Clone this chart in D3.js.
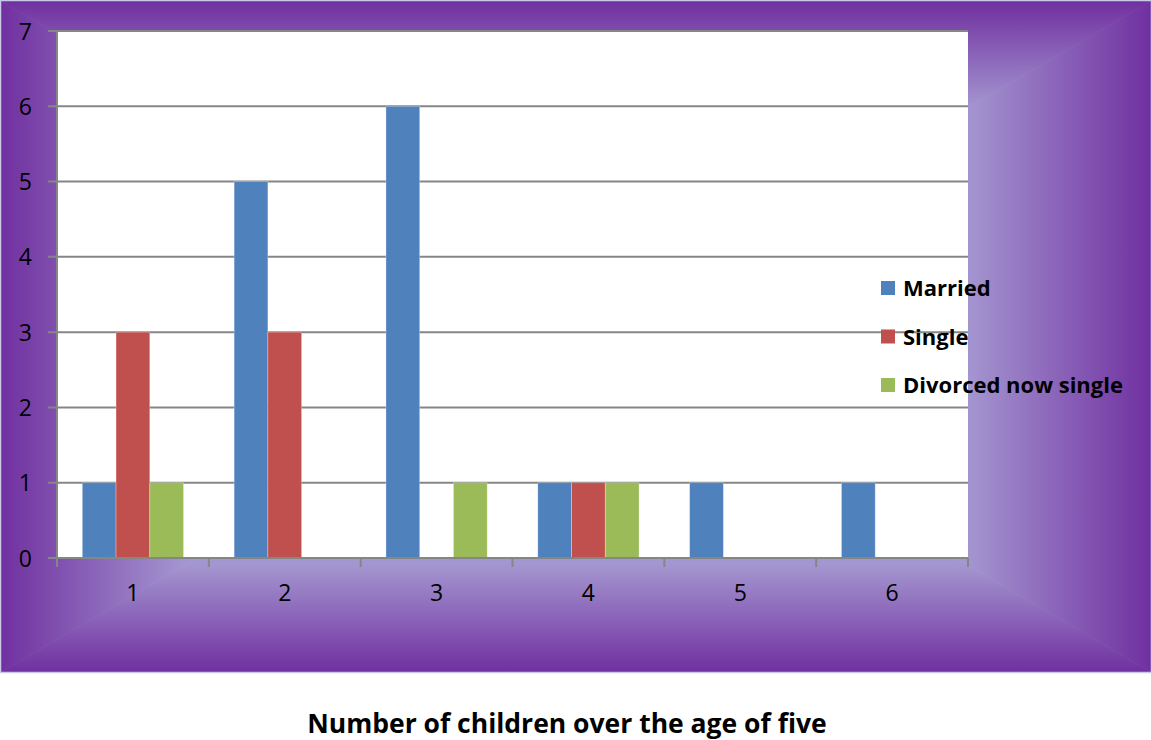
<!DOCTYPE html>
<html>
<head>
<meta charset="utf-8">
<script src="https://cdn.jsdelivr.net/npm/d3@7"></script>
<style>
  body { margin: 0; background: #fff; }
  svg { display: block; }
</style>
</head>
<body>
<div id="chart"></div>
<script>
// categories and series
const categories = ['1', '2', '3', '4', '5', '6'];
const series_names = ['Married', 'Single', 'Divorced now single'];
const married = [1, 5, 6, 1, 1, 1];
const single = [3, 3, 0, 1, 0, 0];
const divorced = [1, 0, 1, 1, 0, 0];
const series_colors = ['#4f81bd', '#c0504d', '#9bbb59'];
const y_ticks = [0, 1, 2, 3, 4, 5, 6, 7];
const chart_title = 'Number of children over the age of five';

const W = 1151, H = 740;
const box = {x0: 1, y0: 1, x1: 1151, y1: 672};
const plot = {left: 57, top: 31, right: 968, bottom: 558};
const axis_color = '#868686';
const font = '"Open Sans", "Noto Sans", sans-serif';

const svg = d3.select('#chart').append('svg')
  .attr('width', W)
  .attr('height', H);

// purple "from center" gradient background: four trapezoids, each fading to the middle
const defs = svg.append('defs');
const cx = (box.x0 + box.x1) / 2, cy = (box.y0 + box.y1) / 2;
const sides = [
  {id: 'gTop', pts: [[box.x0, box.y0], [box.x1, box.y0], [cx, cy]], from: [cx, box.y0], to: [cx, cy]},
  {id: 'gBot', pts: [[box.x0, box.y1], [box.x1, box.y1], [cx, cy]], from: [cx, box.y1], to: [cx, cy]},
  {id: 'gLeft', pts: [[box.x0, box.y0], [box.x0, box.y1], [cx, cy]], from: [box.x0, cy], to: [cx, cy]},
  {id: 'gRight', pts: [[box.x1, box.y0], [box.x1, box.y1], [cx, cy]], from: [box.x1, cy], to: [cx, cy]}
];
sides.forEach(s => {
  const g = defs.append('linearGradient')
    .attr('id', s.id)
    .attr('gradientUnits', 'userSpaceOnUse')
    .attr('x1', s.from[0]).attr('y1', s.from[1])
    .attr('x2', s.to[0]).attr('y2', s.to[1]);
  g.append('stop').attr('offset', 0).attr('stop-color', '#7030a0');
  g.append('stop').attr('offset', 0.32).attr('stop-color', '#a496d0');
  g.append('stop').attr('offset', 1).attr('stop-color', '#aaa0d8');
});
svg.append('g')
  .selectAll('path')
  .data(sides)
  .join('path')
  .attr('d', d => d3.line()(d.pts) + 'Z')
  .attr('fill', d => `url(#${d.id})`)
  .attr('stroke', d => `url(#${d.id})`)
  .attr('stroke-width', 0.8);
svg.append('rect')
  .attr('x', box.x0 - 0.5).attr('y', box.y0 - 0.5)
  .attr('width', box.x1 - box.x0 + 1).attr('height', box.y1 - box.y0 + 1)
  .attr('fill', 'none')
  .attr('stroke', '#c9c9ea')
  .attr('stroke-width', 1.5);

// plot area
svg.append('rect')
  .attr('x', plot.left).attr('y', plot.top)
  .attr('width', plot.right - plot.left).attr('height', plot.bottom - plot.top)
  .attr('fill', '#ffffff');

const y = d3.scaleLinear().domain([0, 7]).range([plot.bottom, plot.top]);
const x0 = d3.scaleBand().domain(categories).range([plot.left, plot.right]).padding(0);
const x1 = d3.scaleBand().domain(series_names).range([0, x0.bandwidth()]).paddingInner(0).paddingOuter(0.75);

// gridlines
svg.append('g')
  .selectAll('line')
  .data(y_ticks)
  .join('line')
  .attr('x1', plot.left - 9).attr('x2', plot.right)
  .attr('y1', d => y(d)).attr('y2', d => y(d))
  .attr('stroke', axis_color)
  .attr('stroke-width', 2);

// bars
const all_values = [married, single, divorced];
const rows = categories.map((c, i) => ({cat: c, vals: series_names.map((s, j) => ({s, v: all_values[j][i], color: series_colors[j]}))}));
svg.append('g')
  .selectAll('g')
  .data(rows)
  .join('g')
  .attr('transform', d => `translate(${x0(d.cat)},0)`)
  .selectAll('rect')
  .data(d => d.vals.filter(v => v.v > 0))
  .join('rect')
  .attr('x', d => x1(d.s))
  .attr('y', d => y(d.v))
  .attr('width', x1.bandwidth())
  .attr('height', d => y(0) - y(d.v))
  .attr('fill', d => d.color)
  .attr('stroke', 'rgba(255,255,255,0.35)')
  .attr('stroke-width', 0.8);

// axes
svg.append('line')
  .attr('x1', plot.left).attr('x2', plot.left)
  .attr('y1', plot.top).attr('y2', plot.bottom + 9)
  .attr('stroke', axis_color).attr('stroke-width', 2);
svg.append('line')
  .attr('x1', plot.left - 9).attr('x2', plot.right)
  .attr('y1', plot.bottom).attr('y2', plot.bottom)
  .attr('stroke', axis_color).attr('stroke-width', 2);
const x_ticks = categories.map(c => x0(c)).concat([plot.right]);
svg.append('g')
  .selectAll('line')
  .data(x_ticks)
  .join('line')
  .attr('x1', d => d).attr('x2', d => d)
  .attr('y1', plot.bottom).attr('y2', plot.bottom + 9)
  .attr('stroke', axis_color).attr('stroke-width', 2);

// tick labels
svg.append('g')
  .selectAll('text')
  .data(y_ticks)
  .join('text')
  .attr('x', 32)
  .attr('y', d => y(d) + 8.5)
  .attr('text-anchor', 'end')
  .attr('font-family', font)
  .attr('font-size', 23)
  .attr('fill', '#000')
  .text(d => d);
svg.append('g')
  .selectAll('text')
  .data(categories)
  .join('text')
  .attr('x', d => x0(d) + x0.bandwidth() / 2)
  .attr('y', 601)
  .attr('text-anchor', 'middle')
  .attr('font-family', font)
  .attr('font-size', 23)
  .attr('fill', '#000')
  .text(d => d);

// legend
const legend = svg.append('g')
  .selectAll('g')
  .data(series_names)
  .join('g')
  .attr('transform', (d, i) => `translate(881, ${288 + i * 48.5})`);
legend.append('rect')
  .attr('x', 0).attr('y', -7)
  .attr('width', 14).attr('height', 14)
  .attr('fill', (d, i) => series_colors[i]);
legend.append('text')
  .attr('x', 22).attr('y', 8)
  .attr('font-family', font)
  .attr('font-weight', 'bold')
  .attr('font-size', 22)
  .attr('fill', '#000')
  .text(d => d);

// title below the chart
svg.append('text')
  .attr('x', 567)
  .attr('y', 733)
  .attr('text-anchor', 'middle')
  .attr('font-family', font)
  .attr('font-weight', 'bold')
  .attr('font-size', 26.5)
  .attr('fill', '#000')
  .text(chart_title);
</script>
</body>
</html>
